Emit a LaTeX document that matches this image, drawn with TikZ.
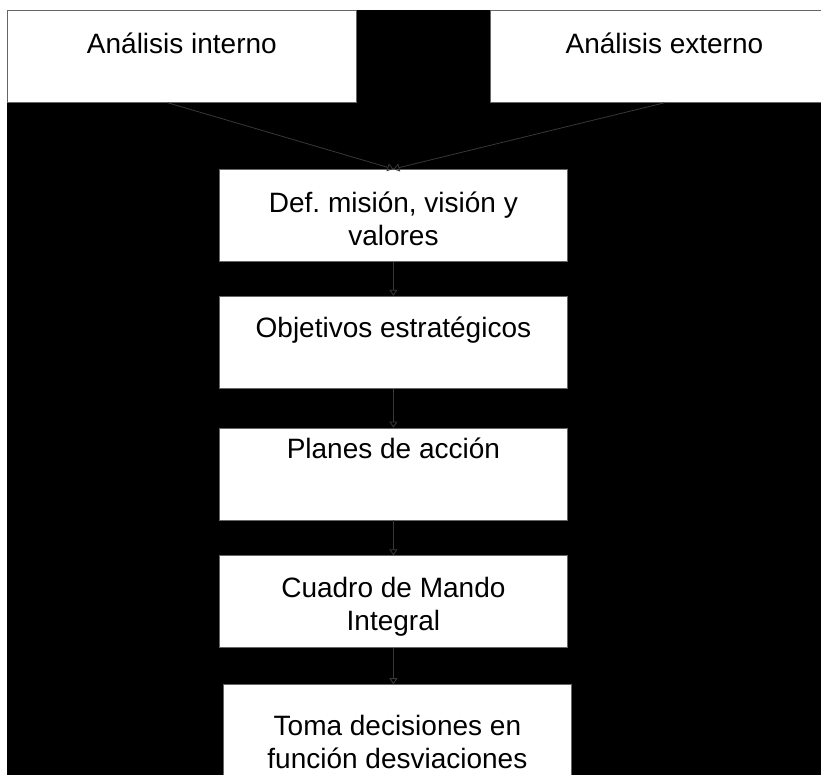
\documentclass[tikz,border=0pt]{standalone}
\usepackage{fontspec}
\setmainfont{Liberation Sans}
\usetikzlibrary{arrows.meta,positioning}

\begin{document}
\begin{tikzpicture}[x=1pt,y=-1pt,node distance=35pt,
  box/.style={draw=black!60,fill=white,line width=0.8pt,minimum width=348pt,minimum height=92pt,inner sep=0pt,anchor=north west},
  txt/.style={align=center,inner sep=0pt,anchor=north,font=\fontsize{28}{33}\selectfont\frenchspacing},
  link/.style={draw=black!78,line width=0.8pt,-{Triangle[open,width=8pt,length=6pt]}}]
 \useasboundingbox (0,0) rectangle (821,775);
 \fill[black] (7,10) rectangle (821,775);
 \node[box,minimum width=349pt,label={[txt,yshift=-23pt]north:{Análisis interno}}] (int) at (7,10) {};
 \node[box,label={[txt,yshift=-23pt]north:{Análisis externo}}] (ext) at (490,10) {};
 \node[box,label={[txt,yshift=-23pt]north:{Def. misión, visión y\\valores}}] (def) at (219,169) {};
 \node[box,below=34pt of def,label={[txt,yshift=-21pt]north:{Objetivos estratégicos}}] (obj) {};
 \node[box,below=39pt of obj,label={[txt,yshift=-10pt]north:{Planes de acción}}] (plan) {};
 \node[box,below=35pt of plan,label={[txt,yshift=-22pt]north:{Cuadro de Mando\\Integral}}] (cmi) {};
 \node[box,below=36pt of cmi,xshift=4pt,label={[txt,yshift=-31pt]north:{Toma decisiones en\\función desviaciones}}] (toma) {};
 \draw[link] ([xshift=-14pt]int.south) -- (def.north);
 \draw[link] (ext.south) -- (def.north);
 \draw[link] (def) -- (obj);
 \draw[link] (obj) -- (plan);
 \draw[link] (plan) -- (cmi);
 \draw[link] (cmi.south) -- (cmi.south |- toma.north);
\end{tikzpicture}
\end{document}
